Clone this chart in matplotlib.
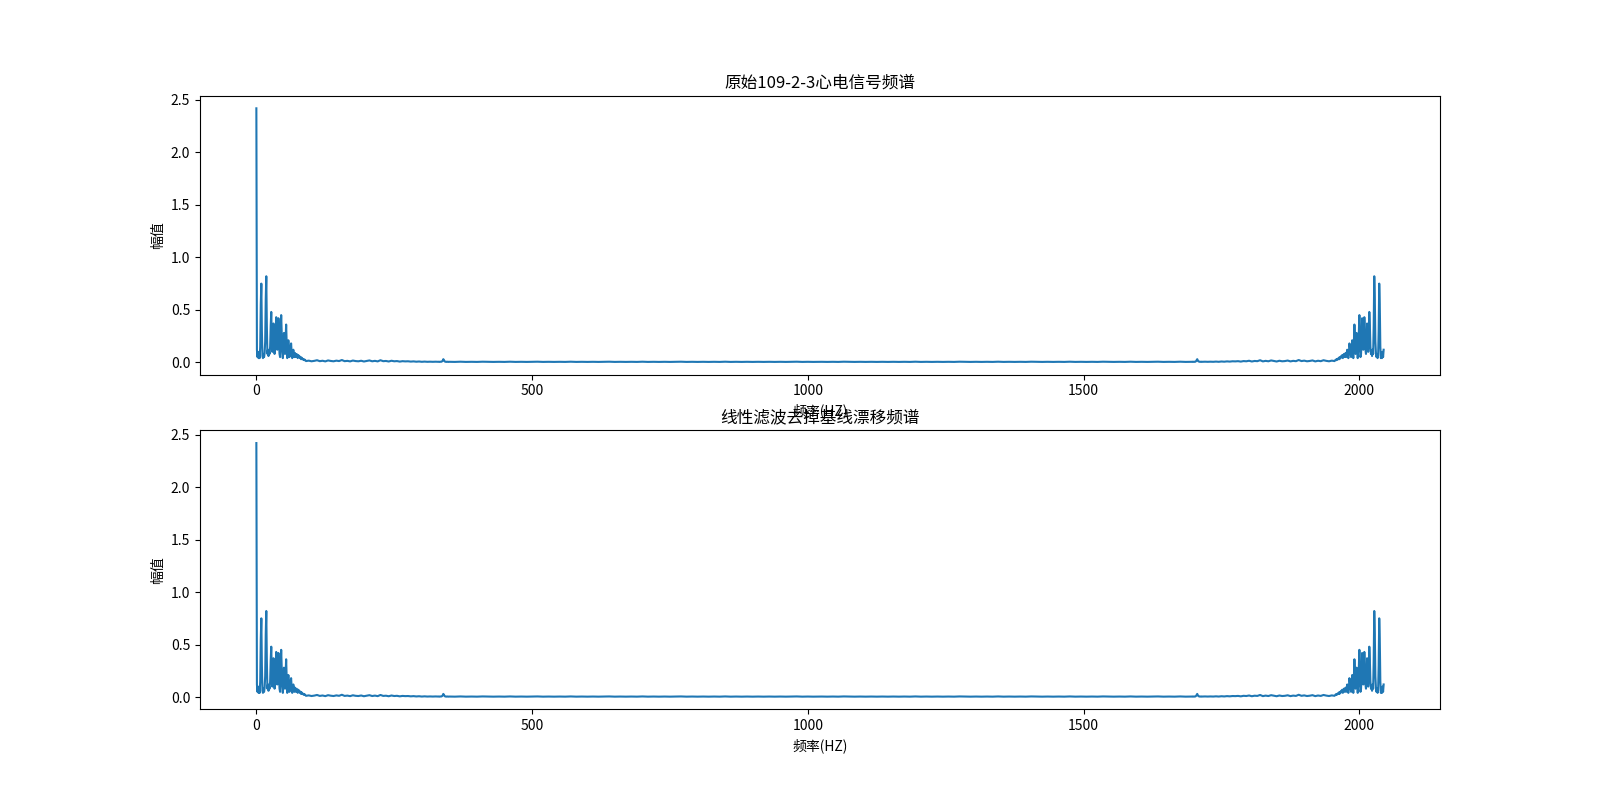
import numpy as np
import matplotlib
matplotlib.use('Agg')
import matplotlib.pyplot as plt
from matplotlib.ticker import MultipleLocator

plt.rcParams['font.family'] = ['Noto Sans CJK SC', 'DejaVu Sans']
plt.rcParams['axes.unicode_minus'] = False

# amplitude, 0..89 Hz, 1 Hz steps
amp_low = [2.42, 0.12, 0.05, 0.10, 0.04, 0.08, 0.04, 0.15, 0.55, 0.75,
           0.30, 0.06, 0.04, 0.08, 0.05, 0.09, 0.20, 0.60, 0.82, 0.35,
           0.08, 0.12, 0.06, 0.10, 0.08, 0.15, 0.35, 0.48, 0.22, 0.10,
           0.25, 0.37, 0.18, 0.08, 0.12, 0.30, 0.43, 0.25, 0.12, 0.28,
           0.42, 0.20, 0.08, 0.05, 0.30, 0.45, 0.28, 0.10, 0.04, 0.12,
           0.28, 0.20, 0.08, 0.22, 0.36, 0.18, 0.04, 0.10, 0.21, 0.12,
           0.05, 0.08, 0.14, 0.18, 0.09, 0.04, 0.07, 0.12, 0.08, 0.05,
           0.09, 0.07, 0.05, 0.08, 0.06, 0.04, 0.07, 0.05, 0.06, 0.04,
           0.05, 0.03, 0.045, 0.03, 0.035, 0.025, 0.03, 0.02, 0.025, 0.018]

# 90..325 Hz, 5 Hz steps
amp_mid = [0.012, 0.016, 0.010, 0.014, 0.020, 0.011, 0.015, 0.009, 0.018, 0.013,
           0.010, 0.016, 0.012, 0.022, 0.011, 0.014, 0.009, 0.017, 0.012, 0.010,
           0.015, 0.008, 0.013, 0.018, 0.010, 0.014, 0.009, 0.020, 0.011, 0.013,
           0.008, 0.015, 0.010, 0.012, 0.007, 0.011, 0.009, 0.010, 0.007, 0.009,
           0.006, 0.008, 0.005, 0.007, 0.005, 0.006, 0.005, 0.006]

# 330..349 Hz, 1 Hz steps (small spike near 340 Hz)
amp_spike = [0.005, 0.006, 0.004, 0.005, 0.006, 0.005, 0.007, 0.010, 0.018, 0.030,
             0.022, 0.012, 0.007, 0.005, 0.006, 0.004, 0.005, 0.006, 0.004, 0.005]

# 350..1020 Hz, 10 Hz steps
amp_high = [0.005, 0.004, 0.006, 0.004, 0.005, 0.004, 0.006, 0.005,
            0.004, 0.005, 0.004, 0.006, 0.004, 0.005, 0.004, 0.005, 0.006, 0.004,
            0.005, 0.004, 0.005, 0.004, 0.006, 0.004, 0.005, 0.004, 0.005, 0.004,
            0.005, 0.006, 0.004, 0.005, 0.004, 0.005, 0.004, 0.006, 0.004, 0.005,
            0.004, 0.005, 0.004, 0.005, 0.006, 0.004, 0.005, 0.004, 0.005, 0.004,
            0.005, 0.004, 0.006, 0.004, 0.005, 0.004, 0.005, 0.004, 0.005, 0.004,
            0.005, 0.004, 0.005, 0.004, 0.005, 0.006, 0.004, 0.005, 0.004, 0.005]

N = 2045

f_half = np.concatenate([np.arange(0, 90), np.arange(90, 330, 5),
                         np.arange(330, 350), np.arange(350, 1021, 10)])
a_half = np.array(amp_low + amp_mid + amp_spike + amp_high)

# magnitude spectrum is symmetric, second half is the mirror of the first
f_all = np.concatenate([f_half, N - f_half[:0:-1]])
a_all = np.concatenate([a_half, a_half[:0:-1]])

a_filtered = a_all.copy()

fig = plt.figure(figsize=(16, 7.97), dpi=100)

ax1 = plt.subplot(211)
plt.plot(f_all, a_all)
plt.title('原始109-2-3心电信号频谱')
plt.xlabel('频率(HZ)')
plt.ylabel('幅值')
ax1.xaxis.set_major_locator(MultipleLocator(500))

ax2 = plt.subplot(212)
plt.plot(f_all, a_filtered)
plt.title('线性滤波去掉基线漂移频谱')
plt.xlabel('频率(HZ)')
plt.ylabel('幅值')
ax2.xaxis.set_major_locator(MultipleLocator(500))

plt.savefig('out.png', dpi=100)
